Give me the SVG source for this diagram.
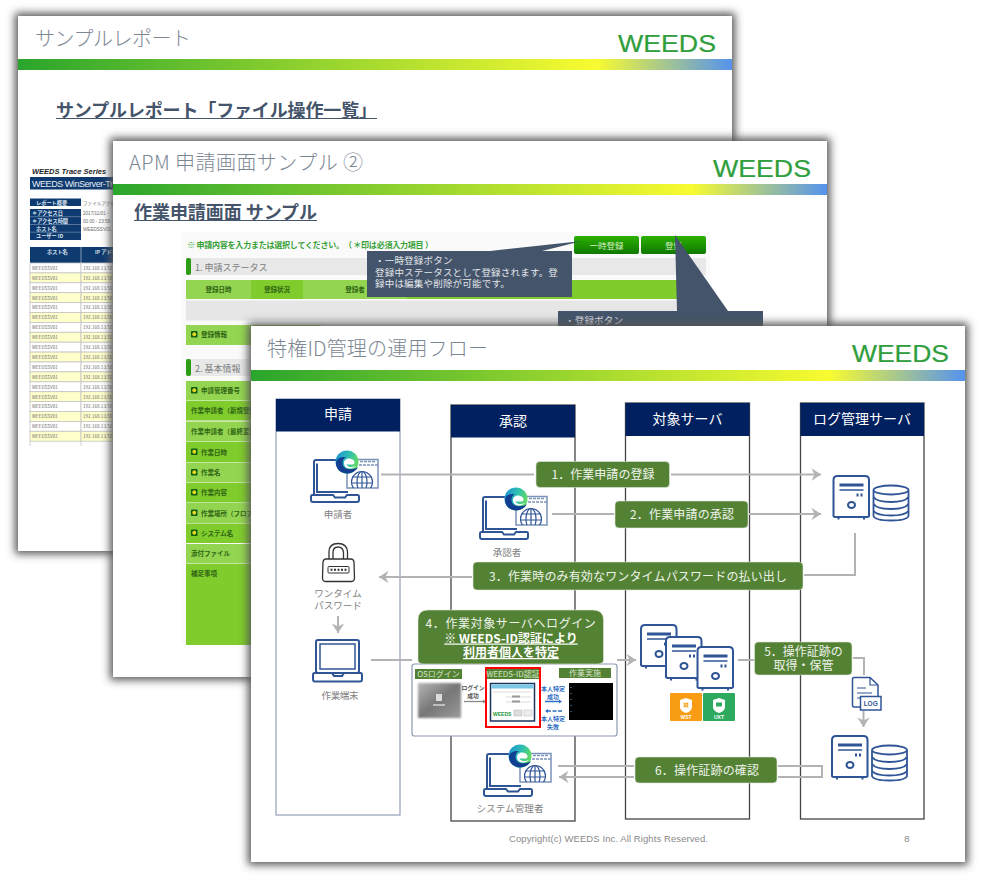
<svg xmlns="http://www.w3.org/2000/svg" xmlns:xlink="http://www.w3.org/1999/xlink" width="983" height="878" viewBox="0 0 983 878">
<defs>
<filter id="blur" x="-10%" y="-10%" width="120%" height="120%"><feGaussianBlur stdDeviation="4.500"/></filter>
<filter id="soft" x="-10%" y="-10%" width="120%" height="120%"><feGaussianBlur stdDeviation="1"/></filter>
<linearGradient id="bar"><stop offset="0" stop-color="#2aa52c"/><stop offset=".4" stop-color="#8fd12f"/><stop offset=".81" stop-color="#f8fb30"/><stop offset="1" stop-color="#5593ee"/></linearGradient>
<linearGradient id="btn" x1="0" y1="0" x2="0" y2="1"><stop offset="0" stop-color="#2cb000"/><stop offset="1" stop-color="#0f7800"/></linearGradient>
<linearGradient id="edge" x1="0" y1="0" x2="1" y2=".3"><stop offset="0" stop-color="#1a8fd8"/><stop offset=".6" stop-color="#2fc0b0"/><stop offset="1" stop-color="#5fd868"/></linearGradient>
<linearGradient id="osimg" x1="0" y1="0" x2="1" y2="1"><stop offset="0" stop-color="#b5b5b5"/><stop offset=".5" stop-color="#777"/><stop offset="1" stop-color="#9a9a9a"/></linearGradient>
<clipPath id="winclip"><rect x="347" y="459" width="31" height="29"/></clipPath>
<marker id="ah" markerUnits="userSpaceOnUse" markerWidth="14" markerHeight="16" refX="10.500" refY="7" orient="auto"><path d="M1 .8L10.500 7L1 13.200L4 7Z" fill="#b3b3b3"/></marker>
<g id="client">
<path d="M348 460H316q-2 0-2 2V495M317 463.500V492H348" fill="none" stroke="#2f5597" stroke-width="2"/>
<path d="M312 495H333l2 2.500H345l2-2.500H358q1 0 1 1.500V500q0 2-2 2H313q-2 0-2-2V496.500q0-1.500 1-1.500Z" fill="#fff" stroke="#2f5597" stroke-width="2"/>
<rect x="347" y="459.500" width="31" height="28.500" fill="#fff" stroke="#7c93ba" stroke-width="1.500"/>
<path d="M360 461.500H376M347 465H378" stroke="#7c93ba" stroke-width="1.500" stroke-dasharray="3 1"/>
<g clip-path="url(#winclip)" fill="none" stroke="#2f5597" stroke-width="1.200"><circle cx="362" cy="482" r="10.500"/><ellipse cx="362" cy="482" rx="5" ry="10.500"/><path d="M362 471V488M352 477H372M351.500 483H372.500"/></g>
<circle cx="347" cy="462" r="11.500" fill="url(#edge)"/>
<path d="M336 463C336 470 342 473.500 347 473.500C352 473.500 356 471 358 467C354 470 347 470 344 467C341.500 464 342 459 346 457C340 456.500 336 459 336 463Z" fill="#123f92"/>
<path d="M344 463C344 459 349 457.500 352.500 459.500C355 461 355.500 463.500 353 464.500H346.500C347 467 352 468 356 466C353 469.500 344 470 344 463Z" fill="#fff"/>
</g>
<g id="server">
<path d="M833.500 516V480q0-4 4-4H865q4 0 4 4V516Q869 517 866 517H836.500Q833.500 517 833.500 516Z" fill="#fff" stroke="#2f5597" stroke-width="2"/>
<rect x="839.500" y="483.500" width="24" height="3" fill="#2f5597"/><path d="M839.500 490H863.500" stroke="#2f5597" stroke-width="1.500"/>
<path d="M857.500 493.500V496.500M861.500 493.500V496.500" stroke="#2f5597" stroke-width="2"/>
<ellipse cx="851.500" cy="505" rx="3.500" ry="3" fill="#fff" stroke="#2f5597" stroke-width="2"/>
<path d="M838.500 517V519.500M864 517V519.500" stroke="#2f5597" stroke-width="2"/>
</g>
<g id="db" fill="#fff" stroke="#2f5597" stroke-width="1.800">
<path d="M873.500 490.500V516Q875 520.500 891 520.500T908.500 516V490.500"/>
<path d="M873.500 497Q877 502 891 502T908.500 497M873.500 504Q877 509 891 509T908.500 504M873.500 511Q877 515.500 891 515.500T908.500 511" fill="none"/>
<ellipse cx="891" cy="490" rx="17.500" ry="4.500"/>
</g>
<g id="star"><rect width="6.500" height="6.500" rx=".8" fill="#105f10"/><circle cx="3.250" cy="3.250" r="1.900" fill="#e8d820"/></g>
</defs>
<style>
text{font-family:"Noto Sans CJK JP","Liberation Sans",sans-serif}
.sh{fill:#555;filter:url(#blur)}
.sl{fill:#fff}
.t{font-size:20px;fill:#7c8794;font-weight:300}
.sub{font-size:18px;font-weight:700;fill:#44546a}
.u{stroke:#44546a;stroke-width:1.200}
.logo{font-family:"Liberation Sans",sans-serif;font-size:23px;fill:#2f9e3c;stroke:#2f9e3c;stroke-width:.2}
.nv{fill:#0e3a70}
.ht{font-size:5.200px;fill:#d8e2ee;font-weight:700}
.rt{font-size:4.600px;fill:#6b6b6b;font-family:"Liberation Sans",sans-serif}
.w{fill:#fff}.y{fill:#ffffcc}
.g1{fill:#93d550}.g2{fill:#7fcc2c}
.gh{font-size:6.500px;font-weight:700;fill:#2f6414}
.sec{font-size:9px;fill:#7a7a7a}
.cb{fill:#44546a}
.ct{font-size:9.500px;fill:#e3e6ea;letter-spacing:.2px}
.hd{fill:#002060}
.ht2{font-size:14px;fill:#fff;text-anchor:middle}
.col{fill:#fff;stroke:#444;stroke-width:1.300}
.lb{fill:#548235;stroke:#dfe6da;stroke-width:.6}
.lt{font-size:12px;fill:#eef3ea;text-anchor:middle}
.lb4{font-weight:700;text-decoration:underline;fill:#fff}
.cap{font-size:9.500px;fill:#808080;text-anchor:middle}
.cn{fill:none;stroke:#b3b3b3;stroke-width:2}
.blue{font-size:6px;font-weight:700;fill:#2f6fc4;text-anchor:middle}
.gk{font-size:5.800px;font-weight:700;fill:#555;text-anchor:middle}
.ol{fill:#548235}
.olt{font-size:8px;fill:#d6e6c8;text-anchor:middle}
.foot{font-size:9.500px;fill:#8a8a8a;font-family:"Liberation Sans",sans-serif}
</style>

<g id="slide-report">
<rect class="sh" x="15" y="13" width="720" height="541"/>
<rect class="sl" x="18" y="16" width="714" height="535"/>
<text class="t" x="35" y="45.500" textLength="156">サンプルレポート</text>
<text class="logo" x="618" y="52" textLength="98" lengthAdjust="spacingAndGlyphs">WEEDS</text>
<rect x="18" y="59" width="714" height="11" fill="url(#bar)"/>
<text class="sub" x="56" y="117" textLength="321">サンプルレポート「ファイル操作一覧」</text>
<path class="u" d="M56 118.500H377"/>
<text x="32" y="173.500" font-size="7.500" font-weight="700" font-style="italic" fill="#222" style="font-family:'Liberation Sans',sans-serif">WEEDS Trace Series</text>
<rect class="nv" x="30" y="177" width="90" height="12.500"/>
<text x="32" y="186.500" font-size="9" fill="#e6edf5" textLength="81" style="font-family:'Liberation Sans',sans-serif">WEEDS WinServer-Tr</text>
<rect class="nv" x="30" y="198.500" width="51" height="7.500"/>
<text class="ht" x="36" y="204.500">レポート概要</text><text class="rt" x="83" y="204.500" style="font-family:'Noto Sans CJK JP',sans-serif">ファイルアクセ</text>
<rect class="nv" x="30" y="209" width="51" height="31"/>
<path d="M30 216.700H81M30 224.500H81M30 232.200H81" stroke="#9db0c8" stroke-width=".5"/>
<text class="ht"><tspan x="32" y="215">＊アクセス日</tspan><tspan x="32" y="222.700">＊アクセス時間</tspan><tspan x="36" y="230.500">ホスト名</tspan><tspan x="36" y="238.200">ユーザー ID</tspan></text>
<text class="rt"><tspan x="83" y="215">2017/11/01 -</tspan><tspan x="83" y="222.700">00:00 - 23:59</tspan><tspan x="83" y="230.500">WEEDSSV01</tspan></text>
<rect class="nv" x="30" y="247" width="90" height="16"/>
<path d="M81 247V263" stroke="#cfd8e3" stroke-width=".6"/>
<text class="ht" x="47" y="253.500">ホスト名</text><text class="ht" x="95" y="253.500">IP アドレス</text>
<g stroke="#c4c4c4" stroke-width=".8">
<rect class="w" x="30" y="263" width="51" height="9.900"/><rect class="w" x="81" y="263" width="40" height="9.900"/>
<rect class="y" x="30" y="272.900" width="51" height="9.900"/><rect class="y" x="81" y="272.900" width="40" height="9.900"/>
<rect class="w" x="30" y="282.800" width="51" height="9.900"/><rect class="w" x="81" y="282.800" width="40" height="9.900"/>
<rect class="y" x="30" y="292.700" width="51" height="9.900"/><rect class="y" x="81" y="292.700" width="40" height="9.900"/>
<rect class="w" x="30" y="302.600" width="51" height="9.900"/><rect class="w" x="81" y="302.600" width="40" height="9.900"/>
<rect class="y" x="30" y="312.500" width="51" height="9.900"/><rect class="y" x="81" y="312.500" width="40" height="9.900"/>
<rect class="w" x="30" y="322.400" width="51" height="9.900"/><rect class="w" x="81" y="322.400" width="40" height="9.900"/>
<rect class="y" x="30" y="332.300" width="51" height="9.900"/><rect class="y" x="81" y="332.300" width="40" height="9.900"/>
<rect class="w" x="30" y="342.200" width="51" height="9.900"/><rect class="w" x="81" y="342.200" width="40" height="9.900"/>
<rect class="y" x="30" y="352.100" width="51" height="9.900"/><rect class="y" x="81" y="352.100" width="40" height="9.900"/>
<rect class="w" x="30" y="362" width="51" height="9.900"/><rect class="w" x="81" y="362" width="40" height="9.900"/>
<rect class="y" x="30" y="371.900" width="51" height="9.900"/><rect class="y" x="81" y="371.900" width="40" height="9.900"/>
<rect class="w" x="30" y="381.800" width="51" height="9.900"/><rect class="w" x="81" y="381.800" width="40" height="9.900"/>
<rect class="y" x="30" y="391.700" width="51" height="9.900"/><rect class="y" x="81" y="391.700" width="40" height="9.900"/>
<rect class="w" x="30" y="401.600" width="51" height="9.900"/><rect class="w" x="81" y="401.600" width="40" height="9.900"/>
<rect class="y" x="30" y="411.500" width="51" height="9.900"/><rect class="y" x="81" y="411.500" width="40" height="9.900"/>
<rect class="w" x="30" y="421.400" width="51" height="9.900"/><rect class="w" x="81" y="421.400" width="40" height="9.900"/>
<rect class="y" x="30" y="431.300" width="51" height="9.900"/><rect class="y" x="81" y="431.300" width="40" height="9.900"/>
<path d="M30 441.200V446M81 441.200V446" fill="none"/>
</g>
<g class="rt">
<text x="32" y="269.800">WEEDSSV01</text><text x="83" y="269.800">192.168.13.50</text>
<text x="32" y="279.700">WEEDSSV01</text><text x="83" y="279.700">192.168.13.50</text>
<text x="32" y="289.600">WEEDSSV01</text><text x="83" y="289.600">192.168.13.50</text>
<text x="32" y="299.500">WEEDSSV01</text><text x="83" y="299.500">192.168.13.50</text>
<text x="32" y="309.400">WEEDSSV01</text><text x="83" y="309.400">192.168.13.50</text>
<text x="32" y="319.300">WEEDSSV01</text><text x="83" y="319.300">192.168.13.50</text>
<text x="32" y="329.200">WEEDSSV01</text><text x="83" y="329.200">192.168.13.50</text>
<text x="32" y="339.100">WEEDSSV01</text><text x="83" y="339.100">192.168.13.50</text>
<text x="32" y="349">WEEDSSV01</text><text x="83" y="349">192.168.13.50</text>
<text x="32" y="358.900">WEEDSSV01</text><text x="83" y="358.900">192.168.13.50</text>
<text x="32" y="368.800">WEEDSSV01</text><text x="83" y="368.800">192.168.13.50</text>
<text x="32" y="378.700">WEEDSSV01</text><text x="83" y="378.700">192.168.13.50</text>
<text x="32" y="388.600">WEEDSSV01</text><text x="83" y="388.600">192.168.13.50</text>
<text x="32" y="398.500">WEEDSSV01</text><text x="83" y="398.500">192.168.13.50</text>
<text x="32" y="408.400">WEEDSSV01</text><text x="83" y="408.400">192.168.13.50</text>
<text x="32" y="418.300">WEEDSSV01</text><text x="83" y="418.300">192.168.13.50</text>
<text x="32" y="428.200">WEEDSSV01</text><text x="83" y="428.200">192.168.13.50</text>
<text x="32" y="438.100">WEEDSSV01</text><text x="83" y="438.100">192.168.13.50</text>
</g>
</g>

<g id="slide-apm">
<rect class="sh" x="110" y="138" width="720" height="542"/>
<rect class="sl" x="113" y="141" width="714" height="536"/>
<text class="t" x="129" y="170" textLength="234">APM 申請画面サンプル ②</text>
<text class="logo" x="713" y="177" textLength="98" lengthAdjust="spacingAndGlyphs">WEEDS</text>
<rect x="113" y="184" width="714" height="11" fill="url(#bar)"/>
<text class="sub" x="134" y="219" textLength="183">作業申請画面 サンプル</text>
<path class="u" d="M134 220.500H317"/>
<rect x="182" y="232" width="528" height="413" fill="#fafafa"/>
<text x="187" y="247.500" font-size="8" font-weight="700" fill="#35a035" textLength="246">※ 申請内容を入力または選択してください。（ ＊印は必須入力項目 ）</text>
<rect x="574" y="236" width="65" height="18" rx="2" fill="url(#btn)"/>
<text x="606.500" y="248.500" font-size="8.500" fill="#d8f0c8" text-anchor="middle">一時登録</text>
<rect x="641" y="236" width="65" height="18" rx="2" fill="url(#btn)"/>
<text x="673.500" y="248.500" font-size="8.500" fill="#d8f0c8" text-anchor="middle">登録</text>
<rect x="186" y="258" width="520" height="17" fill="#e8e8e8"/><rect x="186" y="258" width="5" height="17" rx="2" fill="#2b9c14"/>
<text class="sec" x="195" y="270.500">1. 申請ステータス</text>
<rect class="g1" x="186" y="280" width="65" height="19"/><rect class="g2" x="251" y="280" width="52" height="19"/><rect class="g1" x="303" y="280" width="104" height="19"/><rect class="g2" x="407" y="280" width="299" height="19"/>
<text class="gh" x="218.500" y="291.500" text-anchor="middle">登録日時</text><text class="gh" x="277" y="291.500" text-anchor="middle">登録状況</text><text class="gh" x="355" y="291.500" text-anchor="middle">登録者</text>
<rect x="186" y="300.500" width="520" height="20" fill="#e6e6e6"/>
<rect class="g1" x="186" y="325" width="135" height="20"/>
<use xlink:href="#star" x="191" y="331"/><text class="gh" x="201" y="337">登録情報</text>
<rect x="186" y="359" width="300" height="17" fill="#e8e8e8"/><rect x="186" y="359" width="5" height="17" rx="2" fill="#2b9c14"/>
<text class="sec" x="195" y="371.500">2. 基本情報</text>
<rect class="g1" x="186" y="381" width="120" height="19.500"/><rect class="g2" x="186" y="401" width="120" height="19.500"/><rect class="g1" x="186" y="421.500" width="120" height="20"/><rect class="g2" x="186" y="442" width="120" height="20"/><rect class="g1" x="186" y="462.500" width="120" height="20"/><rect class="g2" x="186" y="483" width="120" height="19.500"/><rect class="g1" x="186" y="503" width="120" height="20"/><rect class="g2" x="186" y="523.500" width="120" height="19.500"/><rect class="g1" x="186" y="544" width="120" height="19.500"/><rect class="g2" x="186" y="564" width="120" height="81"/>
<use xlink:href="#star" x="191" y="387"/><text class="gh" x="201" y="393">申請管理番号</text>
<text class="gh" x="191" y="413">作業申請者（新規登録</text>
<text class="gh" x="191" y="433.500">作業申請者（最終変更</text>
<use xlink:href="#star" x="191" y="448.500"/><text class="gh" x="201" y="454.500">作業日時</text>
<use xlink:href="#star" x="191" y="469"/><text class="gh" x="201" y="475">作業名</text>
<use xlink:href="#star" x="191" y="489"/><text class="gh" x="201" y="495">作業内容</text>
<use xlink:href="#star" x="191" y="509.500"/><text class="gh" x="201" y="515.500">作業場所（フロア</text>
<use xlink:href="#star" x="191" y="529.500"/><text class="gh" x="201" y="535.500">システム名</text>
<text class="gh" x="191" y="556">添付ファイル</text>
<text class="gh" x="191" y="576">補足事項</text>
<g id="callout-temp">
<path class="cb" d="M367 251H490L582 241L542 251H572V297H367Z"/>
<text class="ct"><tspan x="375" y="264">・一時登録ボタン</tspan><tspan x="375" y="275.500">登録中ステータスとして登録されます。登</tspan><tspan x="375" y="287">録中は編集や削除が可能です。</tspan></text>
</g>
<g id="callout-reg">
<path class="cb" d="M558 311H677L675 235L728 311H763V340H558Z"/>
<text class="ct" x="565" y="323.500">・登録ボタン</text>
</g>
</g>

<g id="slide-flow">
<rect class="sh" x="248" y="323" width="720" height="542"/>
<rect class="sl" x="251" y="326" width="714" height="536"/>
<text class="t" x="267" y="355.500" textLength="221">特権ID管理の運用フロー</text>
<text class="logo" x="852" y="362" textLength="97" lengthAdjust="spacingAndGlyphs">WEEDS</text>
<rect x="251" y="370" width="714" height="11" fill="url(#bar)"/>

<g id="lane-apply"><rect x="276" y="399" width="124" height="416" fill="#fff" stroke="#9aa8ba" stroke-width="1.300"/><rect class="hd" x="276" y="399" width="124" height="32.500"/><text class="ht2" x="338" y="419">申請</text></g>
<g id="lane-approve"><rect class="col" x="451" y="405" width="124" height="416"/><rect class="hd" x="451" y="405" width="124" height="32.500"/><text class="ht2" x="513" y="426">承認</text></g>
<g id="lane-target"><rect class="col" x="625.500" y="403" width="124" height="416"/><rect class="hd" x="625.500" y="403" width="124" height="33"/><text class="ht2" x="687.500" y="424">対象サーバ</text></g>
<g id="lane-log"><rect class="col" x="800.500" y="403" width="123.500" height="416"/><rect class="hd" x="800.500" y="403" width="123.500" height="33"/><text class="ht2" x="862" y="424">ログ管理サーバ</text></g>

<g id="connectors">
<path class="cn" d="M381 474.500H534M671 474.500H821" marker-end="url(#ah)"/>
<path class="cn" d="M552 514H614M749 514H821" marker-end="url(#ah)"/>
<path class="cn" d="M855 533V575H804"/>
<path class="cn" d="M472 577H379" marker-end="url(#ah)"/>
<path class="cn" d="M338 616V633" marker-end="url(#ah)"/>
<path class="cn" d="M371 660H412M617 660H636" marker-end="url(#ah)"/>
<path class="cn" d="M738 660H754"/>
<path class="cn" d="M853 658H864V675"/>
<path class="cn" d="M863.500 711V727" marker-end="url(#ah)"/>
<path class="cn" d="M558 766H634M778 766H822V777H778"/>
<path class="cn" d="M634 777H559" marker-end="url(#ah)"/>
</g>

<g id="node-applicant"><use xlink:href="#client"/><text class="cap" x="338" y="518" font-size="9">申請者</text></g>
<g id="node-approver"><use xlink:href="#client" x="169" y="37"/><text class="cap" x="507" y="556">承認者</text></g>
<g id="node-otp">
<path d="M329 560V552Q329 543.500 338 543.500T347.500 552V560M333 560V552.500Q333 547 338 547T343.500 552.500V560" fill="none" stroke="#333" stroke-width="1.300"/>
<path d="M326 559H351Q353.500 559 354 562L354.500 578Q354.500 581.500 351 581.500H326Q322.500 581.500 322.500 578L323 562Q323.500 559 326 559Z" fill="#fff" stroke="#333" stroke-width="1.300"/>
<rect x="328" y="566.500" width="21" height="6.500" rx="1" fill="#fff" stroke="#333" stroke-width="1"/>
<path d="M330.500 569.800H346.500" stroke="#333" stroke-width="2" stroke-dasharray="2 1.500"/>
<text class="cap"><tspan x="338" y="596.500">ワンタイム</tspan><tspan x="338" y="608.500">パスワード</tspan></text>
</g>
<g id="node-terminal">
<rect x="316" y="640" width="43" height="33" rx="2" fill="#fff" stroke="#2f5597" stroke-width="2"/>
<rect x="320" y="644" width="35" height="25" fill="#fff" stroke="#2f5597" stroke-width="1.500"/>
<path d="M314.500 673H332l2 3H342l2-3H360.500q1.500 0 1.500 2V679q0 2.500-2 2.500H315q-2 0-2-2.500V675q0-2 1.500-2Z" fill="#fff" stroke="#2f5597" stroke-width="2"/>
<text class="cap" x="340" y="698.500" textLength="37">作業端末</text>
</g>
<g id="node-log-server-top"><use xlink:href="#server"/><use xlink:href="#db"/></g>
<g id="node-target-servers"><use xlink:href="#server" x="-192.500" y="149"/><use xlink:href="#server" x="-167.500" y="161"/><use xlink:href="#server" x="-136" y="171"/>
<rect x="670" y="693" width="32" height="28" rx="1" fill="#f89c14"/><rect x="703" y="693" width="32" height="28" rx="1" fill="#2daa5e"/>
<path d="M686 698L692 700V707Q692 711 686 713Q680 711 680 707V700Z" fill="#fff"/><path d="M719 698L725 700V707Q725 711 719 713Q713 711 713 707V700Z" fill="#fff"/>
<path d="M683.500 702.500H688.500V707.500H683.500ZM686 702.500V707.500M683.500 705H688.500" fill="#f89c14" stroke="#fff" stroke-width=".5"/>
<rect x="716" y="702.500" width="6" height="4" fill="#2daa5e"/>
<text x="686" y="719" font-size="5" font-weight="700" fill="#fff" text-anchor="middle" style="font-family:'Liberation Sans',sans-serif">WST</text>
<text x="719" y="719" font-size="5" font-weight="700" fill="#fff" text-anchor="middle" style="font-family:'Liberation Sans',sans-serif">UXT</text>
</g>
<g id="node-log-file">
<path d="M854 677.500H870L878 685V707H854q-1.500 0-1.500-1.500V679q0-1.500 1.500-1.500Z" fill="#fff" stroke="#2f5597" stroke-width="1.500"/>
<path d="M870 677.500V685H878M857 688H866M857 693H872M857 698H860" fill="none" stroke="#2f5597" stroke-width="1.200"/>
<rect x="860.500" y="696.500" width="20.500" height="13.500" fill="#fff" stroke="#2f5597" stroke-width="1.500"/>
<text x="870.700" y="705.800" font-size="6.500" font-weight="700" fill="#2f5597" text-anchor="middle" style="font-family:'Liberation Sans',sans-serif">LOG</text>
</g>
<g id="node-log-server-bottom"><use xlink:href="#server" x="-1.500" y="260"/><use xlink:href="#db" x="-1.500" y="260"/></g>
<g id="node-admin"><use xlink:href="#client" x="173" y="294"/><text class="cap" x="510" y="811.500" textLength="67">システム管理者</text></g>

<g id="login-panel">
<rect x="412" y="664" width="205" height="72" rx="2.500" fill="#fff" stroke="#8c9ab0" stroke-width="1.200"/>
<rect class="ol" x="415" y="669" width="47" height="10"/><text class="olt" x="438.500" y="677">OSログイン</text>
<rect x="418" y="683" width="43" height="35" fill="url(#osimg)" filter="url(#soft)"/>
<rect x="436" y="694" width="6" height="7" fill="#ddd"/><path d="M433 705H445" stroke="#fff" stroke-width="1"/>
<text class="gk"><tspan x="473" y="690">ログイン</tspan><tspan x="473" y="698">成功</tspan></text>
<path d="M464 701.500H484" stroke="#888" stroke-width="1.300"/><path d="M483 699.500L486 701.500L483 703.500Z" fill="#888"/>
<rect x="486" y="668" width="54" height="59" fill="#fff" stroke="#f00" stroke-width="2"/>
<rect class="ol" x="487" y="669" width="52" height="10"/><text class="olt" x="513" y="677">WEEDS-ID認証</text>
<rect x="490.500" y="683.500" width="44" height="37.500" fill="#fff" stroke="#1c3560" stroke-width="1.500"/>
<rect x="491.500" y="684.500" width="42" height="4" fill="#7cc8e8"/>
<path d="M493 692H531M506 697H531M506 702H531" stroke="#ccc" stroke-width=".7"/>
<rect x="512" y="695.500" width="8" height="2" fill="#999"/><rect x="512" y="700.500" width="8" height="2" fill="#999"/>
<rect x="514" y="710" width="8" height="6" fill="#ddd" stroke="#aaa" stroke-width=".4"/><rect x="524" y="710" width="8" height="6" fill="#eee" stroke="#aaa" stroke-width=".4"/>
<text x="493" y="716" font-size="5" font-weight="700" fill="#1d9a3c" style="font-family:'Liberation Sans',sans-serif">WEEDS</text>
<rect class="ol" x="559" y="668" width="52" height="10"/><text class="olt" x="585" y="676">作業実施</text>
<rect x="569" y="683" width="44" height="37" fill="#000"/>
<path d="M571 687V716" stroke="#5a9ad0" stroke-width="1" stroke-dasharray="1 5"/>
<text class="blue"><tspan x="553" y="691">本人特定</tspan><tspan x="553" y="699">成功</tspan></text>
<path d="M545 701.500H559" stroke="#2f6fc4" stroke-width="1.500"/><path d="M559 699.500L562 701.500L559 703.500Z" fill="#2f6fc4"/>
<path d="M562 711H548" stroke="#2f6fc4" stroke-width="1.500" stroke-dasharray="4 1.500"/><path d="M548 709L545 711L548 713Z" fill="#2f6fc4"/>
<text class="blue"><tspan x="553" y="721">本人特定</tspan><tspan x="553" y="729">失敗</tspan></text>
</g>

<g id="label-1"><rect class="lb" x="536" y="461.500" width="133.500" height="26" rx="4"/><text class="lt" x="603" y="479" textLength="103">1．作業申請の登録</text></g>
<g id="label-2"><rect class="lb" x="615" y="501" width="133" height="27" rx="4"/><text class="lt" x="682" y="519" textLength="104">2．作業申請の承認</text></g>
<g id="label-3"><rect class="lb" x="473" y="562" width="330" height="28" rx="4"/><text class="lt" x="638" y="580.500" textLength="298">3．作業時のみ有効なワンタイムパスワードの払い出し</text></g>
<g id="label-4"><path class="lb" d="M428 610H593Q603.500 610 603.500 620V660Q603.500 664 597 664H424Q418 664 418 660V620Q418 610 428 610Z"/>
<text class="lt"><tspan x="511" y="627.500" letter-spacing=".6">4．作業対象サーバへログイン</tspan><tspan class="lb4" x="511" y="642.500">※ WEEDS-ID認証により</tspan><tspan class="lb4" x="511" y="657">利用者個人を特定</tspan></text></g>
<g id="label-5"><rect class="lb" x="754.500" y="642" width="97.500" height="33" rx="4"/><text class="lt"><tspan x="803.500" y="656">5．操作証跡の</tspan><tspan x="803.500" y="670">取得・保管</tspan></text></g>
<g id="label-6"><rect class="lb" x="635" y="757" width="142" height="26" rx="4"/><text class="lt" x="707" y="774.500" textLength="104">6．操作証跡の確認</text></g>

<text class="foot" x="509" y="841.500" textLength="199">Copyright(c) WEEDS Inc. All Rights Reserved.</text>
<text class="foot" x="907" y="841.500" text-anchor="middle">8</text>
</g>
</svg>
